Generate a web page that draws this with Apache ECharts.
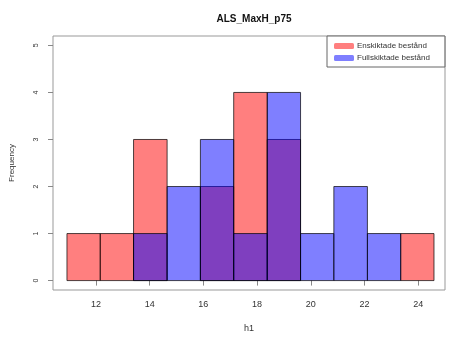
<!DOCTYPE html>
<html>
<head>
<meta charset="utf-8">
<script src="https://cdn.jsdelivr.net/npm/echarts@6/dist/echarts.min.js"></script>
<style>
  html, body { margin: 0; padding: 0; background: #fff; }
  #chart { width: 449px; height: 338px; }
</style>
</head>
<body>
<div id="chart"></div>
<script>
// Histogram break points shared by both groups (h1)
const binEdges = [10.92, 12.16, 13.40, 14.65, 15.89, 17.13, 18.38, 19.62, 20.86, 22.11, 23.35, 24.59];
// Counts per bin
const enskiktade = [1, 1, 3, 0, 2, 4, 3, 0, 0, 0, 1];
const fullskiktade = [0, 0, 1, 2, 3, 1, 4, 1, 2, 1, 0];
// Axis tick labels
const xTicks = [12, 14, 16, 18, 20, 22, 24];
const yTicks = [0, 1, 2, 3, 4, 5];

const seriesNames = ['Enskiktade bestånd', 'Fullskiktade bestånd'];
const seriesColors = ['rgba(255,0,0,0.5)', 'rgba(0,0,255,0.5)'];

function binData(counts) {
  return counts.map((c, i) => [binEdges[i], binEdges[i + 1], c]);
}

function renderBin(params, api) {
  const lo = api.value(0), hi = api.value(1), n = api.value(2);
  if (!n) return null;
  const p0 = api.coord([lo, 0]);
  const p1 = api.coord([hi, n]);
  return {
    type: 'rect',
    shape: { x: p0[0], y: p1[1], width: p1[0] - p0[0], height: p0[1] - p1[1] },
    style: { fill: api.visual('color'), stroke: 'rgba(0,0,0,0.7)', lineWidth: 1 }
  };
}

const chart = echarts.init(document.getElementById('chart'), null, { renderer: 'canvas' });
const font = 'Liberation Sans, Arial, sans-serif';

chart.setOption({
  animation: false,
  textStyle: { fontFamily: font },
  title: {
    text: 'ALS_MaxH_p75',
    left: 249, top: 9, textAlign: 'center',
    textStyle: { fontSize: 10, fontWeight: 'bold', color: '#111', fontFamily: font }
  },
  legend: {
    orient: 'vertical',
    left: 327, top: 36,
    padding: [6, 15, 5, 7],
    itemWidth: 20, itemHeight: 6, itemGap: 4,
    icon: 'roundRect',
    borderColor: '#666', borderWidth: 1, borderRadius: 0,
    backgroundColor: '#fff',
    textStyle: { fontSize: 8, color: '#333', fontFamily: font, padding: [0, 0, 0, -2] },
    data: seriesNames
  },
  grid: {
    left: 50, right: 4, top: 36, bottom: 48,
    show: true, borderColor: '#999', borderWidth: 1, backgroundColor: 'transparent'
  },
  xAxis: {
    type: 'value', min: 10.4, max: 25.0,
    name: 'h1', nameLocation: 'middle', nameGap: 34,
    nameTextStyle: { fontSize: 9, color: '#333' },
    axisLine: { show: false },
    splitLine: { show: false },
    axisTick: { show: true, customValues: xTicks, length: 5, lineStyle: { color: '#888' } },
    axisLabel: { customValues: xTicks, margin: 10, fontSize: 9, color: '#333' }
  },
  yAxis: {
    type: 'value', min: -0.2, max: 5.2,
    name: 'Frequency', nameLocation: 'middle', nameGap: 37,
    nameTextStyle: { fontSize: 8, color: '#333' },
    axisLine: { show: false },
    splitLine: { show: false },
    axisTick: { show: true, customValues: yTicks, length: 5, lineStyle: { color: '#888' } },
    axisLabel: { customValues: yTicks, rotate: 90, margin: 13, fontSize: 7, color: '#333' }
  },
  series: [
    {
      name: seriesNames[0], type: 'custom', renderItem: renderBin,
      itemStyle: { color: seriesColors[0] },
      encode: { x: [0, 1], y: 2 },
      data: binData(enskiktade)
    },
    {
      name: seriesNames[1], type: 'custom', renderItem: renderBin,
      itemStyle: { color: seriesColors[1] },
      encode: { x: [0, 1], y: 2 },
      data: binData(fullskiktade)
    }
  ]
});
</script>
</body>
</html>
